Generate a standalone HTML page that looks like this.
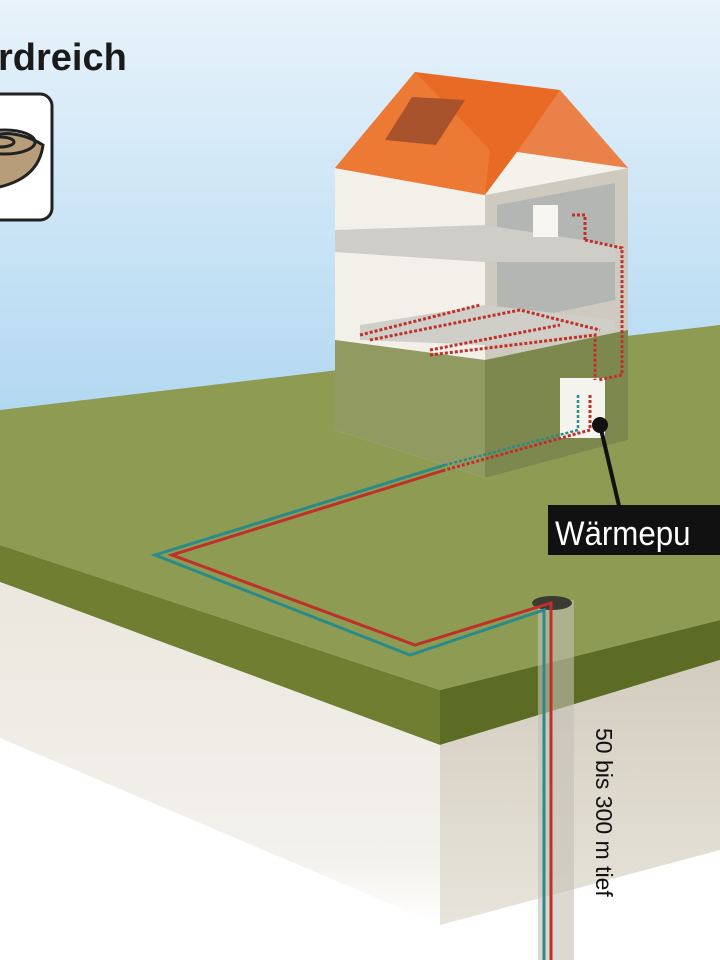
<!DOCTYPE html>
<html><head><meta charset="utf-8"><style>
html,body{margin:0;padding:0;width:720px;height:960px;overflow:hidden;background:#fff}
svg{display:block}
</style></head><body>
<svg width="720" height="960" viewBox="0 0 720 960" xmlns="http://www.w3.org/2000/svg">
<defs>
<linearGradient id="sky" x1="0" y1="0" x2="0" y2="1">
<stop offset="0" stop-color="#e8f3fb"/><stop offset="1" stop-color="#aed6f0"/>
</linearGradient>
<linearGradient id="soilR" x1="0" y1="0" x2="0" y2="1">
<stop offset="0" stop-color="#d3cdbf"/><stop offset="1" stop-color="#e8e4db"/>
</linearGradient>
<linearGradient id="soilL" x1="0" y1="0" x2="0" y2="1">
<stop offset="0" stop-color="#ebe7de"/><stop offset="0.8" stop-color="#f3f1ec"/><stop offset="1" stop-color="#ffffff"/>
</linearGradient>
</defs>
<rect width="720" height="960" fill="#fff"/>
<rect width="720" height="440" fill="url(#sky)"/>
<polygon points="0,410 720,325 720,620 440,690 0,545" fill="#8d9c52"/>
<polygon points="0,545 440,690 440,745 0,582" fill="#6f7e31"/>
<polygon points="440,690 720,620 720,660 440,745" fill="#5d6c24"/>
<polygon points="0,582 440,745 440,925 0,738" fill="url(#soilL)"/>
<polygon points="440,745 720,660 720,850 440,925" fill="url(#soilR)"/>
<polygon points="335,168 485,195 485,478 335,430" fill="#f3f0ea"/>
<polygon points="485,195 628,168 628,440 485,478" fill="#cfcac0"/>
<polygon points="497,205 615,183 615,300 497,325" fill="#b4b6b4"/>
<polygon points="335,340 485,360 485,478 335,430" fill="#7f8b48" opacity="0.85"/>
<polygon points="485,360 628,330 628,440 485,478" fill="#6f7c3a" opacity="0.85"/>
<polygon points="335,230 485,225 615,245 615,262 485,262 335,252" fill="#cfcdc8"/>
<polygon points="360,325 485,305 615,320 615,330 485,345 360,340" fill="#d0cec8"/>
<rect x="533" y="205" width="25" height="32" fill="#f7f5f0"/>
<rect x="560" y="378" width="45" height="60" fill="#f5f3ee"/>
<polygon points="335,168 415,72 560,90 628,168 517,152 485,195" fill="#e86a24"/>
<polygon points="560,90 628,168 517,152" fill="#e98148"/>
<polygon points="335,168 415,72 490,150 485,195" fill="#ec7a35"/>
<polygon points="385,140 412,97 465,100 436,145" fill="#a9532c"/>
<polygon points="485,195 517,152 628,168" fill="#f5f2ec"/>
<g fill="none" stroke="#c0302a" stroke-width="3" stroke-dasharray="3 2">
<path d="M360,335 L480,305 M370,340 L520,310 L600,330 M430,350 L560,325 M430,355 L595,335 L595,380 M585,240 L585,215 L570,215 M585,240 L622,248 L622,375 L598,380"/>
<path d="M590,395 L590,430 L445,470"/>
</g>
<path d="M578,395 L578,430 L445,465" fill="none" stroke="#2b8a8a" stroke-width="2.5" stroke-dasharray="3 2"/>
<rect x="538" y="600" width="36" height="360" fill="#c4c0b6" opacity="0.6"/>
<ellipse cx="552" cy="603" rx="20" ry="7" fill="#3b3b33"/>
<polyline points="445,465 155,555 410,655 544,610 544,960" fill="none" stroke="#2b8a8a" stroke-width="3"/>
<polyline points="445,470 172,555 415,645 551,603 551,960" fill="none" stroke="#c0302a" stroke-width="3"/>
<line x1="600" y1="425" x2="620" y2="510" stroke="#111" stroke-width="4"/>
<circle cx="600" cy="425" r="8" fill="#111"/>
<rect x="548" y="505" width="172" height="50" fill="#111"/>
<text x="555" y="545" font-family="Liberation Sans, sans-serif" font-size="34" fill="#fff" transform="translate(555,0) scale(0.92,1) translate(-555,0)">Wärmepu</text>
<text transform="translate(596,728) rotate(90)" font-family="Liberation Sans, sans-serif" font-size="23" fill="#111">50 bis 300 m tief</text>
<text x="-2" y="70" font-family="Liberation Sans, sans-serif" font-weight="bold" font-size="38" fill="#1a1a1a">rdreich</text>
<rect x="-20" y="94" width="72" height="126" rx="12" fill="#fff" stroke="#222" stroke-width="3"/>
<path d="M-20,140 Q10,125 43,145 Q38,185 -20,190 Z" fill="#b89d7a" stroke="#222" stroke-width="3"/>
<ellipse cx="5" cy="142" rx="30" ry="12" fill="none" stroke="#222" stroke-width="3"/>
<ellipse cx="0" cy="142" rx="14" ry="5" fill="none" stroke="#222" stroke-width="3"/>
</svg>
</body></html>
